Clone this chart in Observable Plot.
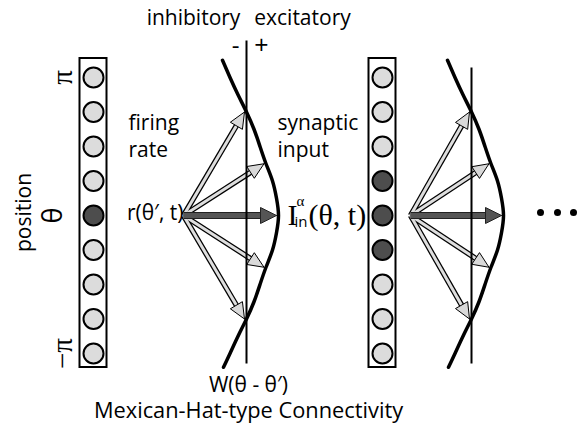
<!DOCTYPE html>
<html><head><meta charset="utf-8">
<script src="https://cdn.jsdelivr.net/npm/d3@7"></script>
<script src="https://cdn.jsdelivr.net/npm/@observablehq/plot@0.6"></script>
<style>body{margin:0;background:#fff}#chart{width:586px;height:430px}</style>
</head><body><div id="chart"></div>
<script>
// ---------- data ----------
const neuronIndex = [0, 1, 2, 3, 4, 5, 6, 7, 8];            // θ from π (top) to −π (bottom)
const activeLayer1 = [0, 0, 0, 0, 1, 0, 0, 0, 0];             // firing neurons, first ring
const activeLayer2 = [0, 0, 0, 1, 1, 1, 0, 0, 0];             // firing neurons, second ring
const kernelOffset = [-4.5, -4, -3.5, -3, -2.5, -2, -1.5, -1, -0.5, 0, 0.5, 1, 1.5, 2, 2.5, 3, 3.5, 4, 4.4]; // θ−θ′ (neuron spacings)
const kernelWeight = [-24, -16.5, -8.5, 0, 7.5, 13.5, 19.5, 26, 30, 32, 30, 26, 19.5, 13.5, 7.5, 0, -8.5, -16.5, -23]; // W(θ−θ′)
const arrowOffset = [-3, -1.5, 0, 1.5, 3];
const arrowKind = ["light", "light", "dark", "light", "light"];
const thetaTickLabels = ["π", "−π"];
const thetaTickIndex = [0, 8];

// ---------- layout ----------
const SP = 34.5, CY = 215;
const layers = [
  {id: 0, col: 93, line: 246, lineTop: 40, src: 183, active: activeLayer1},
  {id: 1, col: 382, line: 471, lineTop: 67, src: 410, active: activeLayer2}
];
const toU = py => (py - CY) / SP;   // pixel row -> neuron units (y scale domain)
const SANS = "'Open Sans', 'Noto Sans', sans-serif";
const SERIF = "'Liberation Serif', 'DejaVu Serif', serif";

const neurons = layers.flatMap(L => neuronIndex.map(i => ({layer: L.id, x: L.col, u: i - 4, on: L.active[i]})));
const kernel = layers.flatMap(L => kernelOffset.map((u, k) => ({layer: L.id, x: L.line + kernelWeight[k], u})));

const shafts = [], heads = [];
layers.forEach(L => {
  arrowOffset.forEach((u, a) => {
    const w = kernelWeight[kernelOffset.indexOf(u)];
    const tx = L.line + w - 2, ty = CY + u * SP;
    const dx = tx - L.src, dy = ty - CY, len = Math.hypot(dx, dy);
    const ux = dx / len, uy = dy / len, px = -uy, py = ux;
    const dark = arrowKind[a] === "dark";
    const hl = 16, hw = dark ? 8 : 7;
    const bx = tx - ux * hl, by = ty - uy * hl;
    const id = L.id * 10 + a;
    shafts.push({id, kind: arrowKind[a], x1: L.src, y1: 0, x2: bx + ux, y2: toU(by + uy)});
    [[tx, ty], [bx + px * hw, by + py * hw], [bx - px * hw, by - py * hw], [tx, ty]]
      .forEach(([x, y]) => heads.push({id, kind: arrowKind[a], x, u: toU(y)}));
  });
});

const FS = 21;
const labels = [
  {t: "inhibitory", x: 193, y: 18, s: FS, f: SANS},
  {t: "excitatory", x: 302, y: 18, s: FS, f: SANS},
  {t: "-", x: 235, y: 46, s: 24, f: SANS},
  {t: "+", x: 261, y: 45, s: 25, f: SANS},
  {t: "firing", x: 128, y: 123, s: FS, a: "start", f: SANS},
  {t: "rate", x: 128, y: 150, s: FS, a: "start", f: SANS},
  {t: "synaptic", x: 277, y: 123, s: FS, a: "start", f: SANS},
  {t: "input", x: 277, y: 150, s: FS, a: "start", f: SANS},
  {t: "r(θ′, t)", x: 183, y: 213, s: FS, a: "end", f: SANS},
  {t: "W(θ - θ′)", x: 248, y: 385, s: FS, f: SANS},
  {t: "Mexican-Hat-type Connectivity", x: 248, y: 411, s: 21.8, f: SANS},
  {t: "position", x: 24, y: 212, s: FS, r: -90, f: SANS},
  {t: "θ", x: 53, y: 215, s: 27, r: -90, f: SANS},
  {t: "in", x: 294, y: 222, s: 15, a: "start", f: SANS},
  {t: "I", x: 287, y: 215, s: 30, a: "start", f: SERIF},
  {t: "α", x: 296, y: 201, s: 15, a: "start", f: SERIF},
  {t: "(θ, t)", x: 308, y: 215, s: 30, a: "start", f: SERIF},
  ...thetaTickLabels.map((t, k) => ({t, x: 62, y: CY + (thetaTickIndex[k] - 4) * SP, s: 29, r: -90, f: SERIF}))
];
const dotsX = [540, 557, 573, 589];

const lightShafts = shafts.filter(d => d.kind === "light"), darkShafts = shafts.filter(d => d.kind === "dark");
const lightHeads = heads.filter(d => d.kind === "light"), darkHeads = heads.filter(d => d.kind === "dark");

const textMarks = [];
for (const f of [SANS, SERIF]) for (const a of ["start", "middle", "end"]) {
  const sub = labels.filter(d => d.f === f && (d.a || "middle") === a);
  if (sub.length) textMarks.push(Plot.text(sub, {x: "x", y: d => toU(d.y), text: "t", fontSize: d => d.s, rotate: d => d.r || 0, textAnchor: a, fontFamily: f, fill: "black"}));
}

const chart = Plot.plot({
  width: 586, height: 430, margin: 0,
  x: {domain: [0, 586], range: [0, 586], axis: null},
  y: {domain: [toU(0), toU(430)], range: [0, 430], axis: null},
  style: {background: "white", overflow: "hidden"},
  marks: [
    // neuron rings
    Plot.rect(layers, {x1: d => d.col - 13.5, x2: d => d.col + 13.5, y1: () => toU(58), y2: () => toU(367), fill: "white", stroke: "black", strokeWidth: 2}),
    Plot.dot(neurons, {x: "x", y: "u", r: 10, fill: d => d.on ? "#4d4d4d" : "#dcdcdc", stroke: "black", strokeWidth: 2}),
    // arrows
    Plot.link(lightShafts, {x1: "x1", y1: "y1", x2: "x2", y2: "y2", stroke: "black", strokeWidth: 5.5}),
    Plot.link(lightShafts, {x1: "x1", y1: "y1", x2: "x2", y2: "y2", stroke: "#dedede", strokeWidth: 3}),
    Plot.line(lightHeads, {x: "x", y: "u", z: "id", fill: "#d9d9d9", stroke: "black", strokeWidth: 1, strokeLinejoin: "miter"}),
    Plot.link(darkShafts, {x1: "x1", y1: "y1", x2: "x2", y2: "y2", stroke: "#222", strokeWidth: 7}),
    Plot.link(darkShafts, {x1: "x1", y1: "y1", x2: "x2", y2: "y2", stroke: "#555", strokeWidth: 5}),
    Plot.line(darkHeads, {x: "x", y: "u", z: "id", fill: "#555", stroke: "#222", strokeWidth: 1, strokeLinejoin: "miter"}),
    // zero lines of W
    Plot.link(layers, {x1: "line", x2: "line", y1: d => toU(d.lineTop), y2: () => toU(363), stroke: "black", strokeWidth: 2}),
    // connectivity kernel
    Plot.line(kernel, {x: "x", y: "u", z: "layer", curve: "natural", stroke: "black", strokeWidth: 3.5}),
    // continuation dots
    Plot.dot(dotsX, {x: d => d, y: () => toU(212), r: 3.5, fill: "black"}),
    ...textMarks
  ]
});
document.getElementById("chart").append(chart);
</script>
</body></html>
